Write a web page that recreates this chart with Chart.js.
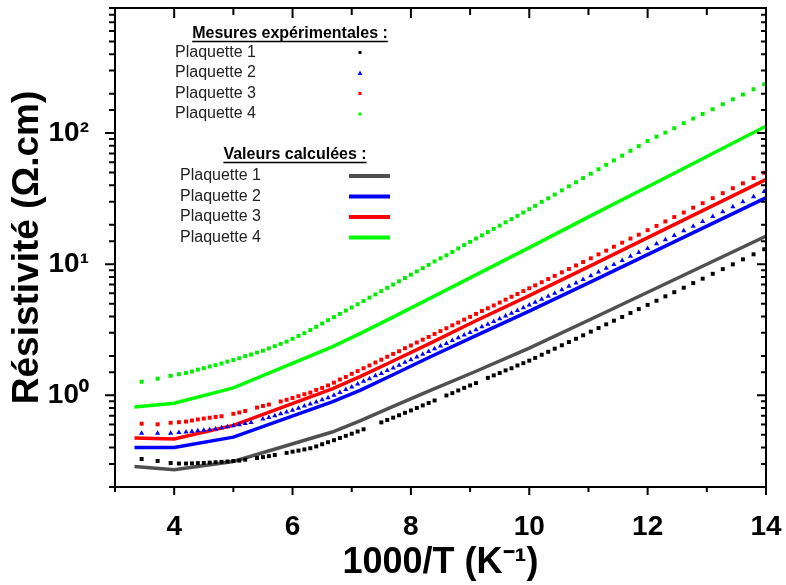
<!DOCTYPE html>
<html lang="fr">
<head>
<meta charset="UTF-8">
<title>Résistivité en fonction de 1000/T</title>
<script src="https://cdn.jsdelivr.net/npm/chart.js"></script>
<style>
  html, body { margin: 0; padding: 0; background: #fff; }
</style>
</head>
<body>
<canvas id="chart" width="786" height="585"></canvas>
<script>
// --- données ---
const seriesNames = ['Plaquette 1', 'Plaquette 2', 'Plaquette 3', 'Plaquette 4'];

// mesures expérimentales (1000/T en K-1), null = pas de mesure
const expX = [3.45, 3.72, 3.94, 4.08, 4.2,
  4.3, 4.4, 4.5, 4.6, 4.7, 4.8, 4.9, 5.0, 5.1, 5.2, 5.3, 5.4, 5.5, 5.6, 5.7, 5.8, 5.9, 6.0, 6.1, 6.2, 6.3, 6.4, 6.5, 6.6, 6.7, 6.8, 6.9,
  7.0, 7.1, 7.2, 7.3, 7.4, 7.5, 7.6, 7.7, 7.8, 7.9, 8.0, 8.1, 8.2, 8.3, 8.4, 8.5, 8.6, 8.7, 8.8, 8.9, 9.0, 9.1, 9.2, 9.3, 9.4,
  9.5, 9.6, 9.7, 9.8, 9.9, 10.0,
  10.1, 10.21, 10.32, 10.43, 10.55, 10.67, 10.79, 10.91, 11.04, 11.17, 11.3, 11.43, 11.57, 11.71, 11.85, 12.0, 12.15, 12.3,
  12.45, 12.61, 12.77, 12.93, 13.1, 13.27, 13.44, 13.61, 13.79, 13.97];

const expP1 = [0.327, 0.316, 0.305, 0.302, 0.302,
  0.303, 0.304, 0.305, 0.307, 0.309, 0.311, 0.313, 0.316, 0.318, 0.323, null, 0.333, 0.338, 0.344, 0.351, null, 0.364, 0.372,
  0.379, 0.387, 0.395, 0.408, 0.424, 0.439, 0.455, 0.473, 0.491, 0.510, 0.530, 0.551, null, null, 0.622, 0.649, 0.676, 0.705,
  0.736, 0.767, 0.802, 0.838, 0.875, 0.914, null, 0.998, 1.04, 1.09, 1.14, 1.19, 1.24, null, 1.36, 1.42, 1.48, 1.55, 1.61,
  1.69, 1.76, 1.84,
  1.93, 2.04, 2.15, 2.27, 2.41, 2.55, 2.70, 2.87, 3.06, 3.26, 3.48, 3.71, 3.96, 4.25, 4.55, 4.90, 5.27, 5.69, 6.12, 6.62,
  7.18, 7.76, 8.45, 9.18, 9.98, 10.9, 11.9, 13.0];

const expP2 = [0.515, 0.513, 0.515, 0.520, 0.525,
  0.530, 0.536, 0.541, 0.546, 0.555, 0.565, 0.575, 0.586, 0.597, 0.610, 0.622, null, 0.659, 0.678, 0.700, 0.723, 0.746, 0.771,
  0.798, 0.828, 0.859, 0.891, 0.925, 0.959, 1.00, 1.05, 1.11, 1.16, 1.22, 1.28, 1.34, 1.41, 1.47, 1.55, 1.62, 1.70, 1.79,
  1.87, 1.96, 2.06, 2.16, 2.27, 2.38, 2.49, 2.62, 2.75, 2.88, 3.02, 3.17, 3.33, 3.49, 3.66, 3.84, 4.03, 4.23, 4.44, 4.66, 4.88,
  5.12, 5.40, 5.69, 6.01, 6.38, 6.78, 7.19, 7.66, 8.17, 8.73, 9.31, 9.95, 10.7, 11.5, 12.3, 13.2, 14.3, 15.4, 16.6, 18.0,
  19.5, 21.2, 23.1, 25.1, 27.4, 29.9, 32.7, 35.8];

const expP3 = [0.608, 0.601, 0.618, 0.624, 0.631,
  0.643, 0.655, 0.665, 0.675, 0.684, 0.693, null, 0.723, 0.740, 0.760, null, 0.807, 0.830, 0.851, null, 0.898, 0.925, 0.955,
  0.986, 1.02, 1.05, 1.10, 1.14, 1.19, 1.25, 1.32, 1.38, 1.46, 1.53, 1.61, 1.69, 1.78, 1.87, 1.97, 2.07, 2.17, 2.29, 2.40,
  2.53, 2.66, 2.79, 2.94, 3.09, 3.25, 3.42, 3.59, 3.78, 3.97, 4.18, 4.40, 4.61, 4.85, 5.10, 5.37, 5.65, 5.93, 6.24, 6.56,
  6.90, 7.29, 7.71, 8.15, 8.67, 9.20, 9.79, 10.4, 11.1, 11.9, 12.7, 13.6, 14.6, 15.7, 16.8, 18.2, 19.6, 21.2, 22.9, 24.8,
  27.0, 29.2, 31.9, 34.8, 38.0, 41.4, 45.4, 49.8];

const expP4 = [1.27, 1.34, 1.41, 1.45, 1.48,
  1.52, 1.57, 1.61, 1.66, 1.70, 1.75, 1.81, 1.86, 1.92, 1.99, 2.05, 2.12, 2.19, 2.28, 2.37, 2.47, 2.57, 2.70, 2.84, 2.98,
  3.15, 3.33, 3.53, 3.74, 3.95, 4.18, 4.43, 4.68, 4.95, 5.25, 5.56, 5.89, 6.24, 6.61, 7.00, 7.41, 7.85, 8.32, 8.81, 9.33,
  9.89, 10.5, 11.1, 11.7, 12.4, 13.2, 14.0, 14.8, 15.7, 16.6, 17.6, 18.6, 19.7, 20.9, 22.1, 23.4, 24.8, 26.3,
  27.9, 29.9, 31.8, 34.0, 36.6, 39.3, 42.2, 45.4, 49.0, 53.0, 57.3, 61.9, 67.3, 73.3, 79.6, 87.1, 94.0, 101, 109, 119,
  129, 140, 152, 166, 181, 197, 216, 236];

// valeurs calculées
const calcX = [3.33, 4, 5, 6.67, 7.14, 7.69, 8.33, 9.09, 10, 11.11, 12.5, 14.29];
const calcP1 = [0.287, 0.271, 0.313, 0.525, 0.638, 0.82, 1.09, 1.52, 2.29, 3.94, 7.82, 18.9];
const calcP2 = [0.40, 0.40, 0.48, 0.89, 1.09, 1.43, 1.97, 2.84, 4.39, 7.59, 15.2, 37.2];
const calcP3 = [0.472, 0.464, 0.59, 1.12, 1.39, 1.82, 2.50, 3.69, 5.77, 10.1, 20.6, 51.3];
const calcP4 = [0.815, 0.87, 1.14, 2.34, 2.96, 3.93, 5.52, 8.26, 13.4, 24.3, 50.8, 132];

// graduations
const xTickLabels = [4, 6, 8, 10, 12, 14];
const yTickLabels = { 1: '10⁰', 10: '10¹', 100: '10²' };

const FONT = '"Liberation Sans", Arial, sans-serif';
const expColors = ['#000000', '#0000ff', '#ff0000', '#00ee00'];
const calcColors = ['#505050', '#0000ff', '#ff0000', '#00ff00'];
const expStyles = ['rect', 'triangle', 'rect', 'rect'];

const toPoints = (xs, ys) => xs.map((x, i) => ({ x: x, y: ys[i] }));

const expSets = [expP1, expP2, expP3, expP4].map((ys, i) => ({
  label: seriesNames[i],
  data: toPoints(expX, ys),
  showLine: false,
  pointStyle: expStyles[i],
  pointRadius: expStyles[i] === 'triangle' ? 3 : 2.8,
  pointBackgroundColor: expColors[i],
  pointBorderWidth: 0,
  order: 1
}));

const calcSets = [calcP1, calcP2, calcP3, calcP4].map((ys, i) => ({
  label: seriesNames[i],
  data: toPoints(calcX, ys),
  showLine: true,
  borderColor: calcColors[i],
  borderWidth: 3.5,
  pointRadius: 0,
  tension: 0,
  clip: 0,
  order: 2
}));

// cadre, graduations et légende
const framePlugin = {
  id: 'frame',
  afterDraw(chart) {
    const { ctx, chartArea: a, scales: { x, y } } = chart;
    ctx.save();
    ctx.strokeStyle = '#000';
    ctx.lineWidth = 2;
    ctx.strokeRect(a.left, a.top, a.right - a.left, a.bottom - a.top);
    ctx.beginPath();
    x.ticks.forEach(t => {
      const px = x.getPixelForValue(t.value);
      const major = t.value % 2 === 0;
      ctx.moveTo(px, a.bottom); ctx.lineTo(px, a.bottom + (major ? 8 : 5));
      ctx.moveTo(px, a.top); ctx.lineTo(px, a.top + (major ? 10 : 7));
    });
    y.ticks.forEach(t => {
      const py = y.getPixelForValue(t.value);
      const lg = Math.log10(t.value);
      const major = Math.abs(lg - Math.round(lg)) < 1e-6;
      ctx.moveTo(a.left, py); ctx.lineTo(a.left - (major ? 10 : 6), py);
      ctx.moveTo(a.right, py); ctx.lineTo(a.right - (major ? 9 : 5), py);
    });
    ctx.stroke();

    // légende
    const header = (txt, cx, cy) => {
      ctx.font = 'bold 16px ' + FONT;
      ctx.fillStyle = '#000';
      ctx.textAlign = 'center';
      ctx.textBaseline = 'middle';
      ctx.fillText(txt, cx, cy);
      const w = ctx.measureText(txt).width;
      ctx.lineWidth = 1.5;
      ctx.beginPath();
      ctx.moveTo(cx - w / 2, cy + 7.5); ctx.lineTo(cx + w / 2, cy + 7.5);
      ctx.stroke();
    };
    header('Mesures expérimentales :', 290, 34);
    header('Valeurs calculées :', 295, 155);

    ctx.font = '16px ' + FONT;
    ctx.textAlign = 'left';
    ctx.textBaseline = 'middle';
    const expRows = [52.5, 73, 93.5, 114];
    const calcRows = [176, 196.5, 217, 237.5];
    seriesNames.forEach((name, i) => {
      ctx.fillStyle = '#222';
      ctx.fillText(name, 175, expRows[i]);
      ctx.fillText(name, 180, calcRows[i]);
      ctx.fillStyle = expColors[i];
      if (expStyles[i] === 'triangle') {
        ctx.beginPath();
        ctx.moveTo(360, expRows[i] - 2.5);
        ctx.lineTo(362.5, expRows[i] + 2);
        ctx.lineTo(357.5, expRows[i] + 2);
        ctx.closePath();
        ctx.fill();
      } else {
        ctx.fillRect(358.5, expRows[i] - 1.5, 3, 3);
      }
      ctx.strokeStyle = calcColors[i];
      ctx.lineWidth = 4;
      ctx.beginPath();
      ctx.moveTo(349, calcRows[i]); ctx.lineTo(390, calcRows[i]);
      ctx.stroke();
    });
    ctx.restore();
  }
};

new Chart(document.getElementById('chart'), {
  type: 'scatter',
  data: { datasets: [...expSets, ...calcSets] },
  options: {
    responsive: false,
    animation: false,
    layout: { padding: { top: 8, right: 20, left: 0, bottom: 0 } },
    plugins: { legend: { display: false }, tooltip: { enabled: false } },
    scales: {
      x: {
        type: 'linear',
        min: 3, max: 14,
        grid: { display: false },
        border: { display: false },
        ticks: {
          stepSize: 1, autoSkip: false, maxRotation: 0, padding: 15, color: '#000',
          font: { family: FONT, size: 28, weight: 'bold' },
          callback: v => xTickLabels.includes(v) ? String(v) : ''
        },
        title: {
          display: true, text: '1000/T (K⁻¹)', color: '#000',
          font: { family: FONT, size: 36, weight: 'bold' },
          padding: { top: 0, bottom: 0 }
        },
        afterFit: s => { s.height = 98; s.paddingLeft = 0; s.paddingRight = 0; }
      },
      y: {
        type: 'logarithmic',
        min: 0.2, max: 900,
        grid: { display: false },
        border: { display: false },
        ticks: {
          autoSkip: false, padding: 18, color: '#000',
          font: { family: FONT, size: 28, weight: 'bold' },
          callback: v => yTickLabels[v] || ''
        },
        title: {
          display: true, text: 'Résistivité (Ω.cm)', color: '#000',
          font: { family: FONT, size: 37, weight: 'bold' },
          padding: { top: 6, bottom: 0 }
        },
        afterFit: s => { s.width = 115; s.paddingTop = 0; s.paddingBottom = 0; }
      }
    }
  },
  plugins: [framePlugin]
});
</script>
</body>
</html>
